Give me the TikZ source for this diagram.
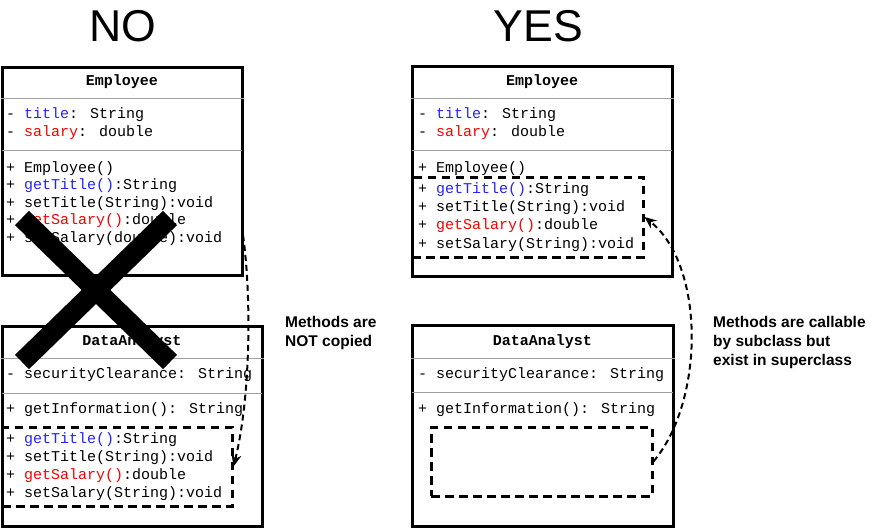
\documentclass[tikz,border=0pt]{standalone}
\usepackage{fontspec}
\setmainfont{Liberation Sans}
\newfontfamily\umlmono{Liberation Mono}
\usetikzlibrary{arrows.meta}
\definecolor{umlblue}{RGB}{35,35,255}
\definecolor{umlred}{RGB}{250,0,0}
\definecolor{sepgray}{RGB}{160,160,160}
\newcommand{\bluetxt}[1]{\textcolor{umlblue}{#1}}
\newcommand{\redtxt}[1]{\textcolor{umlred}{#1}}
\begin{document}
\begin{tikzpicture}[x=1pt,y=-1pt,
        classbox/.style={draw,line width=3pt,inner sep=0pt},
        inherited/.style={draw,line width=3pt,dash pattern=on 8.5pt off 5.5pt,inner sep=0pt},
        compart/.style={sepgray,line width=1pt,shorten <=1.5pt,shorten >=1.5pt},
        members/.style={anchor=base west,inner sep=0pt,align=left,font=\umlmono\fontsize{15}{#1}\selectfont},
        members/.default=18,
        classname/.style={anchor=base,inner sep=0pt,font=\umlmono\bfseries\fontsize{15}{18}\selectfont},
        note/.style={anchor=base west,inner sep=0pt,align=left,font=\bfseries\fontsize{15.5}{19}\selectfont},
        verdict/.style={inner sep=0pt,font=\fontsize{44.6}{50}\selectfont},
        callarrow/.style={line width=2pt,dash pattern=on 6pt off 4pt,-{Stealth[length=12pt,width=10pt]}}]
    \useasboundingbox (0,0) rectangle (872,528);
    \node[verdict] (no) at (123,26) {NO};
    \node[verdict] (yes) at (538.5,26) {YES};

    \node[classbox,minimum width=240pt,minimum height=208pt] (empL) at (122,171) {};
    \draw[compart] (empL.west |- 0,98) -- (empL.east |- 0,98) (empL.west |- 0,150) -- (empL.east |- 0,150);
    \node[classname] (empLname) at (122,85) {Employee};
    \node[members] (empLattr) at (6,136) {- \bluetxt{title}: String\\- \redtxt{salary}: double};
    \node[members=17.5] (empLops) at (6,242) {+ Employee()\\+ \bluetxt{getTitle()}:String\\+ setTitle(String):void\\+ \redtxt{getSalary()}:double\\+ setSalary(double):void};

    \node[classbox,minimum width=260pt,minimum height=200pt] (dataL) at (132,426) {};
    \draw[compart] (dataL.west |- 0,358) -- (dataL.east |- 0,358) (dataL.west |- 0,393) -- (dataL.east |- 0,393);
    \node[classname] (dataLname) at (132,345) {DataAnalyst};
    \node[members] (dataLattr) at (6,378) {- securityClearance: String};
    \node[members] (dataLops) at (6,413) {+ getInformation(): String};
    \node[inherited,minimum width=230pt,minimum height=79pt] (dashL) at (117,466.5) {};
    \node[members] (dataLinh) at (6,497) {+ \bluetxt{getTitle()}:String\\+ setTitle(String):void\\+ \redtxt{getSalary()}:double\\+ setSalary(String):void};

    \node[classbox,minimum width=260pt,minimum height=210pt] (empR) at (542,171) {};
    \draw[compart] (empR.west |- 0,98) -- (empR.east |- 0,98) (empR.west |- 0,150) -- (empR.east |- 0,150);
    \node[classname] (empRname) at (542,85) {Employee};
    \node[members] (empRattr) at (418,136) {- \bluetxt{title}: String\\- \redtxt{salary}: double};
    \node[members] (empRctor) at (418,172) {+ Employee()};
    \node[inherited,minimum width=231pt,minimum height=80pt] (mthR) at (527.5,217) {};
    \node[members=18.3] (empRops) at (418,248) {+ \bluetxt{getTitle()}:String\\+ setTitle(String):void\\+ \redtxt{getSalary()}:double\\+ setSalary(String):void};

    \node[classbox,minimum width=261pt,minimum height=201pt] (dataR) at (542.5,425.5) {};
    \draw[compart] (dataR.west |- 0,358) -- (dataR.east |- 0,358) (dataR.west |- 0,392) -- (dataR.east |- 0,392);
    \node[classname] (dataRname) at (542.5,345) {DataAnalyst};
    \node[members] (dataRattr) at (418,378) {- securityClearance: String};
    \node[members] (dataRops) at (418,413) {+ getInformation(): String};
    \node[inherited,minimum width=221pt,minimum height=69pt] (dashR) at (541.5,461.5) {};

    \node[note] (noteL) at (285,346) {Methods are\\NOT copied};
    \node[note] (noteR) at (713,365) {Methods are callable\\by subclass but\\exist in superclass};

    \coordinate (srcL) at (243,235);
    \draw[callarrow] (srcL) .. controls (252,300) and (250,400) .. (dashL.east);
    \draw[callarrow] (dashR.east) .. controls (705,400) and (705,265) .. (mthR.east);

    \draw[line width=20pt] (22,218) -- (170,362) (170,218) -- (22,362);
\end{tikzpicture}
\end{document}
